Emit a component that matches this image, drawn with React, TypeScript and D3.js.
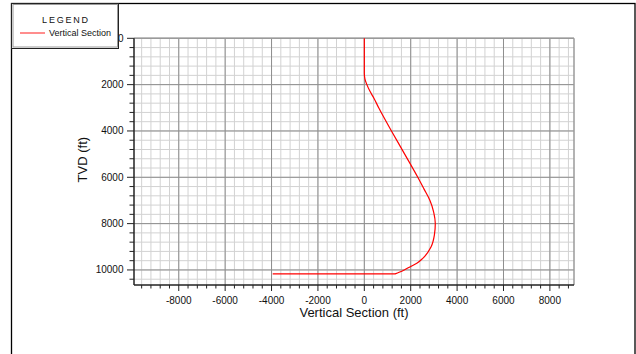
import React from 'react';
import * as d3 from 'd3';

// well path: vertical section (ft) vs TVD (ft)
const vsValues = [0, 0, 25, 110, 250, 420, 620, 1170, 1740, 2305, 2570, 2830, 2990, 3060, 3020, 2880, 2520, 2280, 1980, 1720, 1500, 1330, -3950];
const tvdValues = [0, 1510, 1750, 2000, 2300, 2600, 3000, 4000, 5000, 6000, 6500, 7000, 7500, 8000, 8500, 9000, 9500, 9700, 9860, 10000, 10100, 10170, 10170];

const xTicks = [-8000, -6000, -4000, -2000, 0, 2000, 4000, 6000, 8000];
const yTicks = [0, 2000, 4000, 6000, 8000, 10000];
const xMinor = d3.range(-9600, 9040, 400);
const yMinor = d3.range(0, 10650, 400);

const W = 636;
const H = 354;
const FONT = '"Liberation Sans", Arial, sans-serif';

export default function App() {
  const left = 134, right = 574, top = 38.3, bottom = 285;

  const x = d3.scaleLinear().domain([-9930, 9040]).range([left, right]);
  const y = d3.scaleLinear().domain([0, 10650]).range([top, bottom]);

  const pts = vsValues.map((v, i) => [v, tvdValues[i]] as [number, number]);
  // smooth the build/drop section, straight run for the final horizontal leg
  const curve = d3.line<[number, number]>()
    .x(d => x(d[0]))
    .y(d => y(d[1]))
    .curve(d3.curveMonotoneY);
  const last = pts[pts.length - 1];
  const pathD = (curve(pts.slice(0, -1)) ?? '') + `L${x(last[0])},${y(last[1])}`;

  return (
    <svg width={W} height={H} style={{ position: 'absolute', left: 0, top: 0, background: '#fff' }} fontFamily={FONT}>
      {/* outer frame */}
      <rect x={11.5} y={3.5} width={623.5} height={360} fill="none" stroke="#000" strokeWidth={1.3} />

      {/* minor grid */}
      <g stroke="#d2d2d2" strokeWidth={1}>
        {xMinor.map(v => (
          <line key={'xm' + v} x1={x(v)} x2={x(v)} y1={top} y2={bottom} />
        ))}
        {yMinor.map(v => (
          <line key={'ym' + v} x1={left} x2={right} y1={y(v)} y2={y(v)} />
        ))}
      </g>
      {/* major grid */}
      <g stroke="#8e8e8e" strokeWidth={1}>
        {xTicks.map(v => (
          <line key={'xM' + v} x1={x(v)} x2={x(v)} y1={top} y2={bottom} />
        ))}
        {yTicks.map(v => (
          <line key={'yM' + v} x1={left} x2={right} y1={y(v)} y2={y(v)} />
        ))}
      </g>
      {/* plot border (top/right) */}
      <line x1={left} x2={right} y1={top} y2={top} stroke="#9a9a9a" strokeWidth={1.5} />
      <line x1={right} x2={right} y1={top} y2={bottom} stroke="#9a9a9a" strokeWidth={1.5} />

      {/* axis lines */}
      <line x1={left} x2={left} y1={top} y2={bottom} stroke="#222" strokeWidth={1.5} />
      <line x1={left} x2={right} y1={bottom} y2={bottom} stroke="#222" strokeWidth={1.5} />

      {/* x ticks */}
      <g stroke="#222" strokeWidth={1}>
        {xMinor.map(v => (
          <line key={'xt' + v} x1={x(v)} x2={x(v)} y1={bottom} y2={bottom + (v % 2000 === 0 ? 6 : 3.5)} />
        ))}
      </g>
      {xTicks.map(v => (
        <text key={'xl' + v} x={x(v)} y={304} fontSize={10} textAnchor="middle" fill="#111">{v}</text>
      ))}

      {/* y ticks */}
      <g stroke="#222" strokeWidth={1}>
        {yMinor.map(v => (
          <line key={'yt' + v} x1={left - (v % 2000 === 0 ? 7 : 4.5)} x2={left} y1={y(v)} y2={y(v)} />
        ))}
      </g>
      {yTicks.map(v => (
        <text key={'yl' + v} x={123.5} y={y(v) + 3.5} fontSize={10} textAnchor="end" fill="#111">{v}</text>
      ))}

      {/* data */}
      <path d={pathD} fill="none" stroke="#ff0000" strokeWidth={1.2} />

      {/* axis titles */}
      <text x={(left + right) / 2} y={317} fontSize={13} textAnchor="middle" fill="#111">Vertical Section (ft)</text>
      <text transform={`translate(86.5,${(top + bottom) / 2 - 2}) rotate(-90)`} fontSize={13} textAnchor="middle" fill="#111">TVD (ft)</text>

      {/* legend */}
      <g>
        <rect x={11.5} y={3.5} width={107} height={45} fill="#fff" stroke="#222" strokeWidth={1} />
        <rect x={13} y={4.5} width={104.5} height={42.5} fill="none" stroke="#9a9a9a" strokeWidth={1} />
        <text x={66} y={23} fontSize={9} textAnchor="middle" letterSpacing={1.8} fill="#111">LEGEND</text>
        <line x1={20} x2={45} y1={33} y2={33} stroke="#ff4040" strokeWidth={1.2} />
        <text x={49} y={36} fontSize={9} fill="#111">Vertical Section</text>
      </g>
    </svg>
  );
}
